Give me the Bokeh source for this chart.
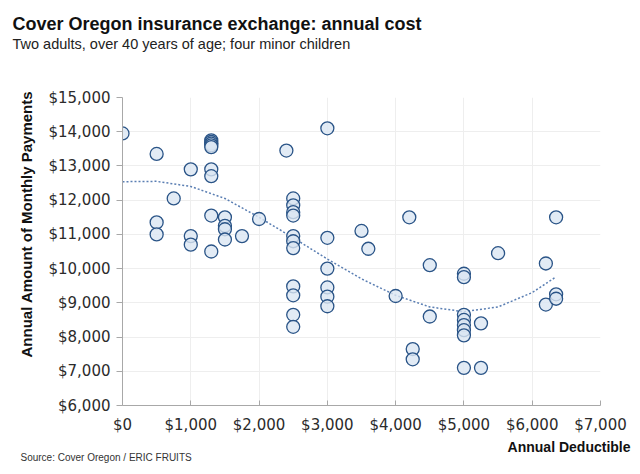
import math
from bokeh.plotting import figure
from bokeh.models import ColumnDataSource, FixedTicker, NumeralTickFormatter, Title
from bokeh.embed import file_html
from bokeh.resources import INLINE

# ---- data ----
deductible = [
    0,
    500, 500, 500,
    750,
    1000, 1000, 1000,
    1300, 1300, 1300, 1300, 1300, 1300, 1300, 1300, 1300,
    1500, 1500, 1500, 1500,
    1750,
    2000,
    2400,
    2500, 2500, 2500, 2500, 2500, 2500, 2500, 2500, 2500, 2500, 2500,
    3000, 3000, 3000, 3000, 3000, 3000,
    3500, 3600,
    4000, 4200, 4250, 4250, 4500, 4500,
    5000, 5000, 5000, 5000, 5000, 5000, 5000, 5000,
    5250, 5250,
    5500,
    6200, 6200,
    6350, 6350, 6350,
]
annual_payments = [
    13950,
    13350, 11350, 11000,
    12050,
    12900, 10950, 10700,
    13750, 13700, 13650, 13600, 13550, 12900, 12700, 11550, 10500,
    11500, 11250, 11150, 10850,
    10950,
    11450,
    13450,
    12050, 11850, 11650, 11550, 10950, 10800, 10600, 9480, 9220, 8650, 8300,
    14100, 10900, 10000, 9450, 9180, 8900,
    11100, 10580,
    9200, 11500, 7650, 7350, 10100, 8600,
    9850, 9750, 8650, 8500, 8350, 8200, 8050, 7100,
    8400, 7100,
    10450,
    10150, 8950,
    11500, 9250, 9120,
]
trend_x = [0, 500, 1000, 1500, 2000, 2500, 3000, 3500, 4000, 4500, 5000, 5500, 6000, 6350]
trend_y = [12540, 12550, 12400, 12050, 11500, 10900, 10280, 9700, 9220, 8880, 8740, 8880, 9300, 9760]

x_ticks = [0, 1000, 2000, 3000, 4000, 5000, 6000, 7000]
y_ticks = [6000, 7000, 8000, 9000, 10000, 11000, 12000, 13000, 14000, 15000]

title_text = "Cover Oregon insurance exchange: annual cost"
subtitle_text = "Two adults, over 40 years of age; four minor children"
y_label_text = "Annual Amount of Monthly Payments"
x_label_text = "Annual Deductible"
source_text = "Source: Cover Oregon / ERIC FRUITS"

# ---- figure ----
p = figure(width=632, height=466, x_range=(0, 7000), y_range=(6000, 15000),
           output_backend="svg", toolbar_location=None,
           min_border_left=122, min_border_right=32, min_border_top=97, min_border_bottom=61)
p.outline_line_color = None
p.background_fill_color = "white"
p.border_fill_color = "white"

p.xgrid.grid_line_color = "#eeeeee"
p.ygrid.grid_line_color = "#eeeeee"

p.xaxis.ticker = FixedTicker(ticks=x_ticks)
p.yaxis.ticker = FixedTicker(ticks=y_ticks)
p.xaxis.formatter = NumeralTickFormatter(format="$0,0")
p.yaxis.formatter = NumeralTickFormatter(format="$0,0")
for ax in (p.xaxis, p.yaxis):
    ax.axis_line_color = "#a8a8a8"
    ax.major_tick_line_color = "#a8a8a8"
    ax.minor_tick_line_color = None
    ax.major_label_text_font = "DejaVu Sans"
    ax.major_label_text_font_size = "15px"
    ax.major_label_text_color = "#2b2b2b"
p.xaxis.major_tick_in = 5
p.xaxis.major_tick_out = 0
p.xaxis.major_label_standoff = 10
p.yaxis.major_tick_in = 0
p.yaxis.major_tick_out = 6
p.yaxis.major_label_standoff = 6

# trend line
p.line(trend_x, trend_y, line_color="#5b7fb3", line_width=1.5, line_dash="2 2")

# scatter
src = ColumnDataSource(dict(x=deductible, y=annual_payments))
p.scatter("x", "y", source=src, marker="circle", size=13,
          fill_color="#dbe6f3", fill_alpha=0.8,
          line_color="#2a5487", line_width=1.3)

# ---- titles ----
def ttl(text, where, align, offset, size, bold, color, standoff, valign="bottom"):
    p.add_layout(Title(text=text, align=align, offset=offset, text_font="Liberation Sans",
                       text_font_size=size, text_font_style="bold" if bold else "normal",
                       text_color=color, standoff=standoff, vertical_align=valign), where)

# spacer between frame and subtitle
ttl(" ", "above", "left", 0, "10px", False, "#ffffff", 33)
ttl(subtitle_text, "above", "left", -110, "14.5px", False, "#222222", 0)
ttl(title_text, "above", "left", -110, "18px", True, "#111111", 0)
ttl(y_label_text, "left", "left", 48, "15px", True, "#111111", 22)
ttl(x_label_text, "below", "right", -30, "14px", True, "#111111", 4, "top")
ttl(source_text, "below", "left", -102, "10px", False, "#333333", -14, "top")

open("out.html", "w").write(file_html(p, INLINE))
